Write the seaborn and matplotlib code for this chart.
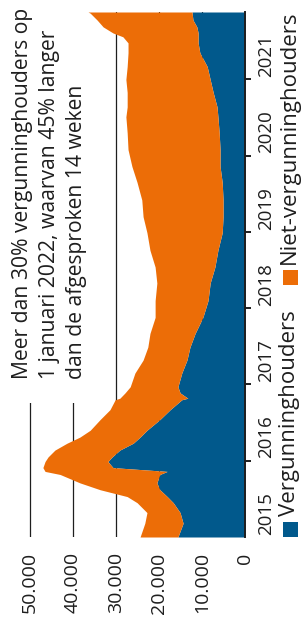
import matplotlib
matplotlib.use("Agg")
import matplotlib.pyplot as plt
import seaborn as sns
from matplotlib.patches import Rectangle

# ---- data ----
jaar = [2015.00, 2015.18, 2015.32, 2015.45, 2015.53, 2015.62, 2015.71, 2015.82,
        2015.86, 2015.91, 2015.99, 2016.05, 2016.14, 2016.23, 2016.31, 2016.40,
        2016.54, 2016.67, 2016.80, 2016.82, 2016.89, 2016.97, 2017.15, 2017.32,
        2017.49, 2017.67, 2017.88, 2018.10, 2018.33, 2018.54, 2018.76, 2018.99,
        2019.20, 2019.42, 2019.65, 2019.86, 2020.08, 2020.30, 2020.51, 2020.64,
        2020.83, 2021.00, 2021.17, 2021.35, 2021.48, 2021.56, 2021.61, 2021.69,
        2021.78, 2021.87, 2021.885]
totaal = [24400, 23300, 22800, 25100, 27400, 33700, 38400, 43000,
          46500, 47000, 46500, 45800, 44200, 41400, 38400, 36000,
          33700, 31400, 30200, 29100, 27900, 26700, 25600, 23700,
          22600, 22100, 20900, 20900, 20500, 20900, 22100, 22800,
          23700, 24000, 25100, 26300, 27200, 27400, 27700, 27400,
          27400, 27700, 27400, 27200, 27200, 28400, 30700, 33000,
          34400, 36000, 36500]
vergunninghouders = [15600, 14400, 15100, 16700, 18100, 19800, 20500, 19800,
                     18100, 30700, 31900, 30900, 29100, 26000, 24400, 22800,
                     19800, 17400, 14700, 13300, 15100, 15600, 14700, 13500,
                     12800, 11600, 9800, 8600, 8100, 7000, 6300, 5300,
                     5100, 5100, 5300, 5800, 5800, 6000, 6300, 6500,
                     7400, 8100, 8800, 10500, 10900, 10900, 10900, 11200,
                     12100, 12300, 12300]
jaartallen = [2015, 2016, 2017, 2018, 2019, 2020, 2021]
waarde_ticks = [0, 10000, 20000, 30000, 40000, 50000]
reeksen = ["Vergunninghouders", "Niet-vergunninghouders"]
annotatie = ["Meer dan 30% vergunninghouders op",
             "1 januari 2022, waarvan 45% langer",
             "dan de afgesproken 14 weken"]

blauw = "#01598C"
oranje = "#EC6D07"
donker = "#1e1e1e"

sns.set_theme(style="white")
plt.rcParams["font.family"] = ["Open Sans", "DejaVu Sans"]

W, H = 301, 641
fig = plt.figure(figsize=(W / 100, H / 100), dpi=100)
ax = fig.add_axes([28 / W, 1 - 537 / H, 217 / W, 525 / H])

ax.fill_betweenx(jaar, 0, vergunninghouders, color=blauw, lw=0, zorder=1)
ax.fill_betweenx(jaar, vergunninghouders, totaal, color=oranje, lw=0, zorder=1)
ax.set_xlim(50465, 0)
ax.set_ylim(jaar[0], jaar[-1])

# value axis (bottom, rotated labels)
ax.set_xticks(waarde_ticks)
ax.set_xticklabels([f"{v:,}".replace(",", ".") for v in waarde_ticks], rotation=90)
ax.tick_params(axis="x", length=0, pad=11, labelsize=14, labelcolor=donker)
ax.set_axisbelow(True)
ax.grid(axis="x", color=donker, lw=0.9)
ax.grid(axis="y", visible=False)

# time axis (right side)
ax.yaxis.tick_right()
ax.set_yticks([j + 1 for j in jaartallen[:-1]])
ax.set_yticklabels([])
ax.set_yticks([j + 0.5 for j in jaartallen], minor=True)
ax.set_yticklabels([str(j) for j in jaartallen], minor=True, rotation=90)
ax.tick_params(axis="y", which="major", right=True, left=False, length=4,
               width=1.4, color=donker)
ax.tick_params(axis="y", which="minor", right=True, left=False, length=0,
               pad=9, labelsize=13.5, labelcolor=donker)

for s in ["top", "left", "bottom"]:
    ax.spines[s].set_visible(False)
ax.spines["right"].set_color(donker)
ax.spines["right"].set_linewidth(1.4)

# white panel behind annotation (hides gridlines)
ax.add_patch(Rectangle((0, 1 - 403 / H), 108 / W, 403 / H, transform=fig.transFigure,
                       facecolor="white", edgecolor="none", zorder=0.9, clip_on=False))
for regel, basis in zip(annotatie, [28, 55, 82]):
    fig.text(basis / W, 1 - 379 / H, regel, rotation=90, rotation_mode="anchor",
             ha="left", va="baseline", fontsize=15.2, color=donker)

# legend (rotated, manual)
fig.add_artist(Rectangle((283 / W, 1 - 537 / H), 15 / W, 15 / H,
                         transform=fig.transFigure, facecolor=blauw, edgecolor="none"))
fig.text(295 / W, 1 - 516 / H, reeksen[0], rotation=90, rotation_mode="anchor",
         ha="left", va="baseline", fontsize=16, color=donker)
fig.add_artist(Rectangle((283 / W, 1 - 285 / H), 15 / W, 15 / H,
                         transform=fig.transFigure, facecolor=oranje, edgecolor="none"))
fig.text(295 / W, 1 - 264 / H, reeksen[1], rotation=90, rotation_mode="anchor",
         ha="left", va="baseline", fontsize=16, color=donker)

fig.savefig("out.png", dpi=100)
